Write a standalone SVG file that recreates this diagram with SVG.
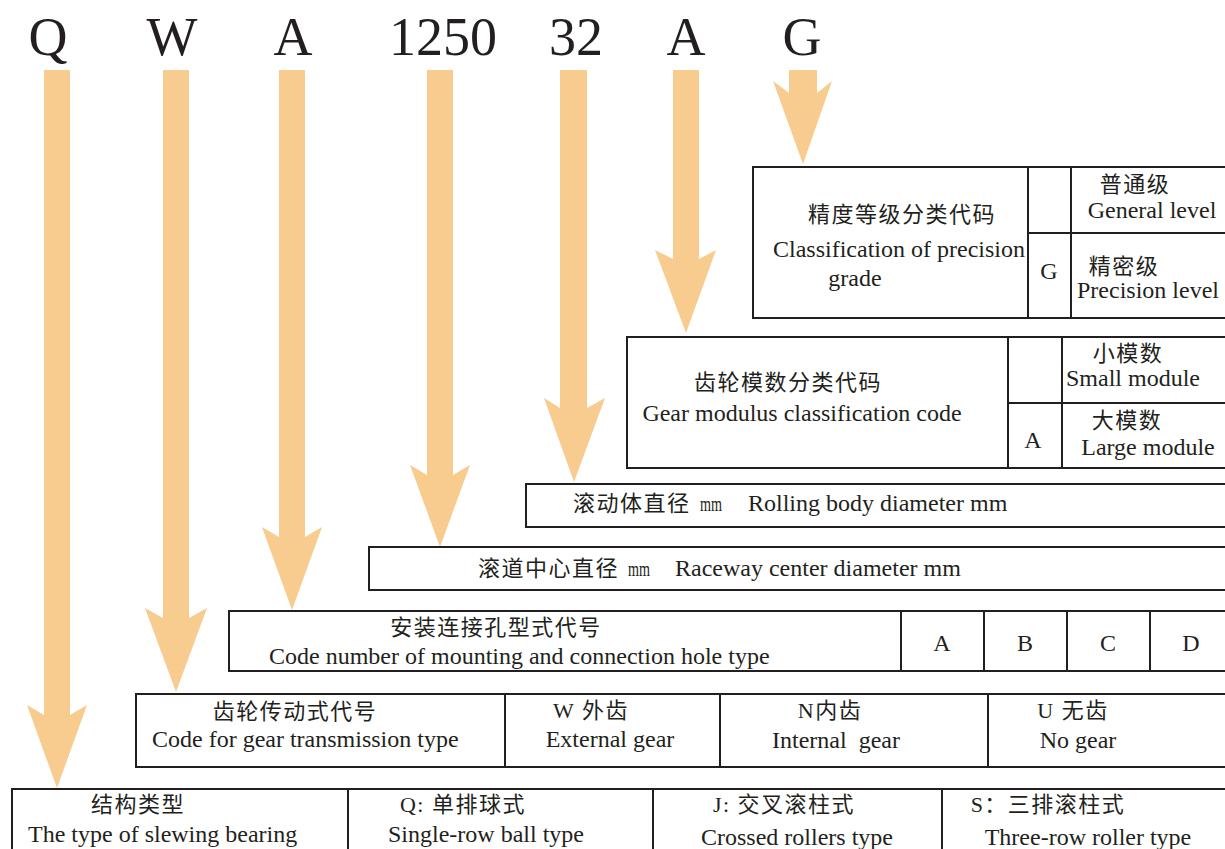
<svg xmlns="http://www.w3.org/2000/svg" width="1225" height="849" viewBox="0 0 1225 849">
<style>
.code{font-family:"Liberation Serif","Times New Roman",serif;font-size:54px;fill:#231F20;text-anchor:middle}
.en{font-family:"Liberation Serif","Times New Roman",serif;font-size:24px;fill:#231F20}
.cn{font-family:"Liberation Serif","Noto Sans CJK SC",sans-serif;font-size:22px;letter-spacing:1.5px;fill:#231F20}
.mm{font-family:"Liberation Serif",serif;font-size:20px;fill:#231F20}
.c{text-anchor:middle}
.box{fill:#FFFFFF;stroke:#231F20;stroke-width:2}
.ln{stroke:#231F20;stroke-width:2;fill:none}
.arrow{fill:#F8CB8E}
</style>
<rect width="1225" height="849" fill="#FFFFFF"/>

<g id="codes">
<text class="code" x="48" y="55">Q</text>
<text class="code" x="172" y="55">W</text>
<text class="code" x="293" y="55">A</text>
<text class="code" x="443" y="55">1250</text>
<text class="code" x="576" y="55">32</text>
<text class="code" x="686" y="55">A</text>
<text class="code" x="802" y="55">G</text>
</g>

<g id="connectors">
<polygon class="arrow" points="44,70 70,70 70,715 87,705 57,788 27,705 44,715"/>
<polygon class="arrow" points="163,70 189,70 189,618 207,608 176,692 145,608 163,618"/>
<polygon class="arrow" points="279,70 305,70 305,537 322,527 292,610 262,527 279,537"/>
<polygon class="arrow" points="427,70 453,70 453,475 470,465 440,547 410,465 427,475"/>
<polygon class="arrow" points="560,70 587,70 587,408 605,398 574,482 544,398 560,408"/>
<polygon class="arrow" points="673,70 699,70 699,259 716,250 686,333 655,250 673,259"/>
<polygon class="arrow" points="789,70 817,70 817,93 832,81 803,164 773,81 789,93"/>
</g>

<g id="precision">
<rect class="box" x="753" y="167" width="480" height="151"/>
<line class="ln" x1="1028" y1="167" x2="1028" y2="318"/>
<line class="ln" x1="1071" y1="167" x2="1071" y2="318"/>
<line class="ln" x1="1028" y1="233" x2="1230" y2="233"/>
<text class="cn c" x="902" y="222">精度等级分类代码</text>
<text class="en c" x="899" y="257">Classification of precision</text>
<text class="en c" x="855" y="286">grade</text>
<text class="en c" x="1049" y="279">G</text>
<text class="cn c" x="1135" y="192">普通级</text>
<text class="en c" x="1152" y="218">General level</text>
<text class="cn c" x="1124" y="274">精密级</text>
<text class="en c" x="1148" y="298">Precision level</text>
</g>

<g id="modulus">
<rect class="box" x="627" y="337" width="606" height="131"/>
<line class="ln" x1="1008" y1="337" x2="1008" y2="468"/>
<line class="ln" x1="1062" y1="337" x2="1062" y2="468"/>
<line class="ln" x1="1008" y1="403" x2="1230" y2="403"/>
<text class="cn c" x="788" y="390">齿轮模数分类代码</text>
<text class="en c" x="802" y="421">Gear modulus classification code</text>
<text class="en c" x="1033" y="448">A</text>
<text class="cn c" x="1128" y="361">小模数</text>
<text class="en c" x="1133" y="386">Small module</text>
<text class="cn c" x="1127" y="428">大模数</text>
<text class="en c" x="1148" y="455">Large module</text>
</g>

<g id="rolling">
<rect class="box" x="526" y="484" width="707" height="43"/>
<text class="cn" x="573" y="511">滚动体直径</text>
<text class="mm" x="700" y="511" textLength="22" lengthAdjust="spacingAndGlyphs">mm</text>
<text class="en" x="748" y="511">Rolling body diameter mm</text>
</g>

<g id="raceway">
<rect class="box" x="369" y="547" width="864" height="43"/>
<text class="cn" x="478" y="576">滚道中心直径</text>
<text class="mm" x="628" y="576" textLength="22" lengthAdjust="spacingAndGlyphs">mm</text>
<text class="en" x="675" y="576">Raceway center diameter mm</text>
</g>

<g id="mounting">
<rect class="box" x="229" y="611" width="1004" height="60"/>
<line class="ln" x1="901" y1="611" x2="901" y2="671"/>
<line class="ln" x1="984" y1="611" x2="984" y2="671"/>
<line class="ln" x1="1067" y1="611" x2="1067" y2="671"/>
<line class="ln" x1="1150" y1="611" x2="1150" y2="671"/>
<text class="cn c" x="496" y="635">安装连接孔型式代号</text>
<text class="en" x="269" y="664">Code number of mounting and connection hole type</text>
<text class="en c" x="942" y="651">A</text>
<text class="en c" x="1025" y="651">B</text>
<text class="en c" x="1108" y="651">C</text>
<text class="en c" x="1191" y="651">D</text>
</g>

<g id="transmission">
<rect class="box" x="136" y="694" width="1097" height="73"/>
<line class="ln" x1="505" y1="694" x2="505" y2="767"/>
<line class="ln" x1="720" y1="694" x2="720" y2="767"/>
<line class="ln" x1="988" y1="694" x2="988" y2="767"/>
<text class="cn c" x="295" y="719">齿轮传动式代号</text>
<text class="en" x="152" y="747">Code for gear transmission type</text>
<text class="cn c" x="591" y="718">W 外齿</text>
<text class="en c" x="610" y="747">External gear</text>
<text class="cn c" x="830" y="718">N内齿</text>
<text class="en c" x="836" y="748" xml:space="preserve">Internal  gear</text>
<text class="cn c" x="1073" y="718">U 无齿</text>
<text class="en c" x="1078" y="748">No gear</text>
</g>

<g id="structure">
<rect class="box" x="12" y="789" width="1221" height="70"/>
<line class="ln" x1="348" y1="789" x2="348" y2="849"/>
<line class="ln" x1="653" y1="789" x2="653" y2="849"/>
<line class="ln" x1="942" y1="789" x2="942" y2="849"/>
<text class="cn c" x="138" y="812">结构类型</text>
<text class="en" x="28" y="842">The type of slewing bearing</text>
<text class="cn c" x="463" y="812">Q: 单排球式</text>
<text class="en c" x="486" y="842">Single-row ball type</text>
<text class="cn c" x="784" y="812">J: 交叉滚柱式</text>
<text class="en c" x="797" y="845">Crossed rollers type</text>
<text class="cn c" x="1048" y="812">S：三排滚柱式</text>
<text class="en c" x="1088" y="845">Three-row roller type</text>
</g>
</svg>
